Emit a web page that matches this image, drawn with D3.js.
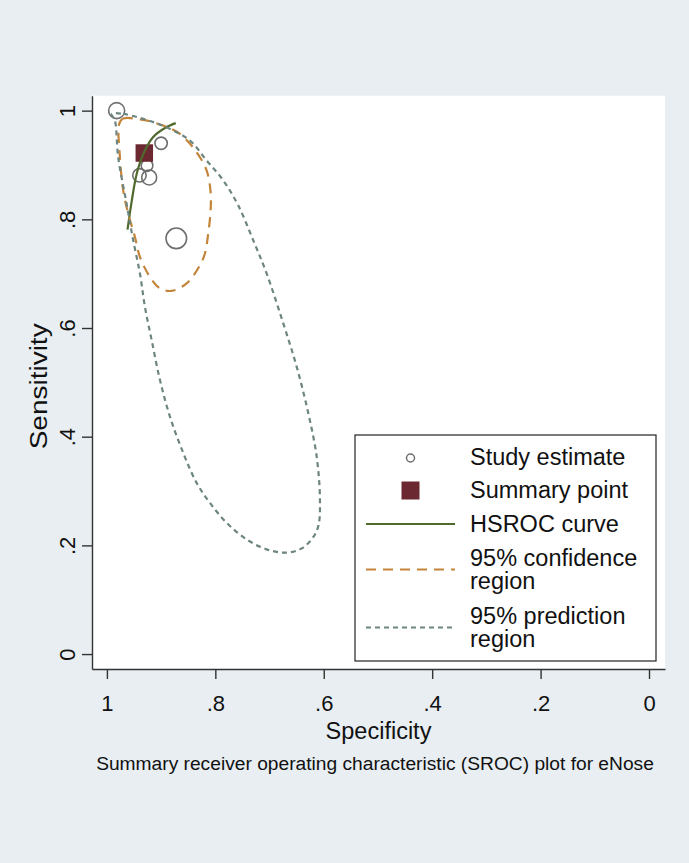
<!DOCTYPE html>
<html><head><meta charset="utf-8">
<script src="https://cdn.jsdelivr.net/npm/d3@7/dist/d3.min.js"></script>
<style>body{margin:0;background:#e8eef1;} svg{display:block;font-family:"Liberation Sans",Arial,sans-serif;}</style>
</head><body><svg id="c" width="689" height="863"></svg>
<script>
// ---- data ----
const studySpec = [0.982, 0.900, 0.926, 0.940, 0.922, 0.872];
const studySens = [1.000, 0.940, 0.899, 0.881, 0.877, 0.765];
const studyWeight = [64, 38, 34, 45, 56, 106];
const summarySpec = 0.931, summarySens = 0.922;
const hsrocSpec = [0.962, 0.954, 0.945, 0.933, 0.915, 0.893, 0.873];
const hsrocSens = [0.781, 0.835, 0.884, 0.920, 0.951, 0.968, 0.977];
const confSpec = [0.9773,0.9705,0.9336,0.8961,0.8653,0.8345,0.8161,0.8087,0.8087,0.8131,0.8192,0.8284,0.8530,0.8806,0.9022,0.9207,0.9391,0.9483,0.9607,0.9699,0.9760];
const confSens = [0.9756,0.9853,0.9829,0.9725,0.9572,0.9235,0.8899,0.8502,0.8165,0.7738,0.7371,0.7156,0.6820,0.6684,0.6728,0.6941,0.7308,0.7675,0.8104,0.8532,0.9143];
const predSpec = [0.9913,0.9699,0.9330,0.8899,0.8469,0.8161,0.7854,0.7578,0.7301,0.7054,0.6747,0.6500,0.6286,0.6131,0.6070,0.6101,0.6223,0.6439,0.6716,0.7054,0.7423,0.7792,0.8100,0.8345,0.8592,0.8838,0.9022,0.9175,0.9299,0.9391,0.9515,0.9637,0.9792,0.9852];
const predSens = [0.9939,0.9939,0.9848,0.9694,0.9450,0.9083,0.8716,0.8257,0.7615,0.7004,0.6086,0.5290,0.4435,0.3639,0.2844,0.2354,0.2110,0.1927,0.1866,0.1927,0.2110,0.2417,0.2783,0.3150,0.3701,0.4372,0.5046,0.5780,0.6391,0.7004,0.7615,0.8288,0.9143,0.9817];
const xTicks = [1, 0.8, 0.6, 0.4, 0.2, 0];
const yTicks = [0, 0.2, 0.4, 0.6, 0.8, 1];
const legendLabels = [["Study estimate"],["Summary point"],["HSROC curve"],["95% confidence","region"],["95% prediction","region"]];
const xTitle = "Specificity", yTitle = "Sensitivity";
const caption = "Summary receiver operating characteristic (SROC) plot for eNose";

// ---- styles ----
const C = {bg:"#e8eef1", axis:"#333", study:"#6e6e6e", summary:"#6b2830", hsroc:"#506a2e", conf:"#c4853b", pred:"#6d8580"};
const svg = d3.select("#c");
const P = {l:92, r:665, t:95.7, b:669};
svg.append("rect").attr("width",689).attr("height",863).attr("fill",C.bg);
svg.append("rect").attr("x",P.l).attr("y",P.t).attr("width",P.r-P.l).attr("height",P.b-P.t).attr("fill","#fff");

const x = d3.scaleLinear().domain([1.0275,-0.0295]).range([P.l,P.r]);
const y = d3.scaleLinear().domain([-0.0275,1.0275]).range([P.b,P.t]);
const fmt = d => d===0?"0":d===1?"1":d3.format(".1f")(d).replace(/^0/,"");

// axes
const gx = svg.append("g").attr("transform",`translate(0,${P.b})`)
  .call(d3.axisBottom(x).tickValues(xTicks).tickFormat(fmt).tickSize(10).tickSizeOuter(0));
gx.selectAll("text").attr("y",42).attr("dy",null).attr("font-size",22).attr("fill","#111").attr("font-family","Liberation Sans, Arial");
const gy = svg.append("g").attr("transform",`translate(${P.l},0)`)
  .call(d3.axisLeft(y).tickValues(yTicks).tickFormat(fmt).tickSize(10).tickSizeOuter(0));
gy.selectAll("text").attr("x",null).attr("dy",null).attr("text-anchor","middle")
  .attr("transform","translate(-17,0) rotate(-90)").attr("font-size",22).attr("fill","#111").attr("font-family","Liberation Sans, Arial");
svg.selectAll(".domain,.tick line").attr("stroke",C.axis).attr("stroke-width",1.4);

svg.append("text").attr("x",(P.l+P.r)/2).attr("y",738.5).attr("text-anchor","middle").attr("font-size",23.5).attr("fill","#111").text(xTitle);
svg.append("text").attr("transform",`translate(47,${(P.t+P.b)/2+4}) rotate(-90)`).attr("text-anchor","middle")
  .attr("font-size",23.5).attr("fill","#111").attr("textLength",126).attr("lengthAdjust","spacingAndGlyphs").text(yTitle);
svg.append("text").attr("x",375).attr("y",770).attr("text-anchor","middle").attr("font-size",19.2).attr("fill","#111").text(caption);

// marks
const r = d3.scaleSqrt().domain([0,d3.max(studyWeight)]).range([0,10.3]);
const studies = studySpec.map((s,i)=>({s, e:studySens[i], w:studyWeight[i]}));
svg.append("g").selectAll("circle").data(studies).join("circle")
  .attr("cx",d=>x(d.s)).attr("cy",d=>y(d.e)).attr("r",d=>r(d.w))
  .attr("fill","none").attr("stroke",C.study).attr("stroke-width",1.6);
const sq = 17.5;
svg.append("rect").attr("x",x(summarySpec)-sq/2).attr("y",y(summarySens)-sq/2).attr("width",sq).attr("height",sq).attr("fill",C.summary);

const line = d3.line().x(d=>x(d[0])).y(d=>y(d[1]));
svg.append("path").datum(hsrocSpec.map((s,i)=>[s,hsrocSens[i]]))
  .attr("d",line.curve(d3.curveCatmullRom)).attr("fill","none").attr("stroke",C.hsroc).attr("stroke-width",2.2);
const closed = d3.line().x(d=>x(d[0])).y(d=>y(d[1])).curve(d3.curveCatmullRomClosed);
svg.append("path").datum(confSpec.map((s,i)=>[s,confSens[i]]))
  .attr("d",closed).attr("fill","none").attr("stroke",C.conf).attr("stroke-width",2.2).attr("stroke-dasharray","10,7");
svg.append("path").datum(predSpec.map((s,i)=>[s,predSens[i]]))
  .attr("d",closed).attr("fill","none").attr("stroke",C.pred).attr("stroke-width",2.2).attr("stroke-dasharray","5,4");

// legend
const L = {x:355, y:435, w:301, h:226};
svg.append("rect").attr("x",L.x).attr("y",L.y).attr("width",L.w).attr("height",L.h).attr("fill","#fff").attr("stroke","#222").attr("stroke-width",1.2);
const keyY = [458, 490.5, 524, 569.5, 627.5];
const baseY = [[465],[498],[531.5],[566,589],[624,647]];
const kx = 410.5, k1 = 366, k2 = 455;
svg.append("circle").attr("cx",kx).attr("cy",keyY[0]).attr("r",4).attr("fill","none").attr("stroke",C.study).attr("stroke-width",1.5);
svg.append("rect").attr("x",kx-9).attr("y",keyY[1]-9).attr("width",18).attr("height",18).attr("fill",C.summary);
svg.append("line").attr("x1",k1).attr("x2",k2).attr("y1",keyY[2]).attr("y2",keyY[2]).attr("stroke",C.hsroc).attr("stroke-width",2.2);
svg.append("line").attr("x1",k1).attr("x2",k2).attr("y1",keyY[3]).attr("y2",keyY[3]).attr("stroke",C.conf).attr("stroke-width",2.2).attr("stroke-dasharray","10,7");
svg.append("line").attr("x1",k1).attr("x2",k2).attr("y1",keyY[4]).attr("y2",keyY[4]).attr("stroke",C.pred).attr("stroke-width",2.2).attr("stroke-dasharray","5,4");
legendLabels.forEach((lines,i)=>{
  lines.forEach((t,j)=>{
    svg.append("text").attr("x",470).attr("y",baseY[i][j]).attr("font-size",23.5).attr("fill","#111").text(t);
  });
});
</script></body></html>
